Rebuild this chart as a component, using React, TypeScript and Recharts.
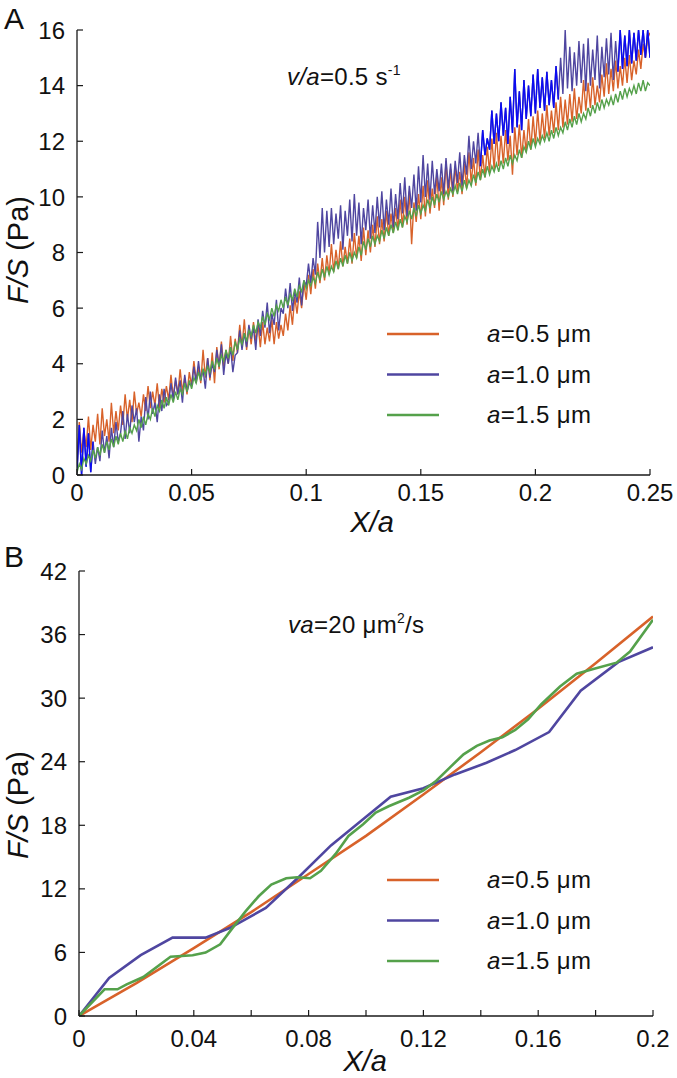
import React from 'react';
import { LineChart, Line, XAxis, YAxis, Legend } from 'recharts';

const FONT = '"Liberation Sans", Arial, Helvetica, sans-serif';
const AXIS = '#1a1a1a';
const C_ORANGE = '#D8622A';
const C_PURPLE = '#4F46A0';
const C_GREEN = '#55A14B';
const C_BLUE = '#0B0BF2';

const seriesNames = ['a=0.5 μm', 'a=1.0 μm', 'a=1.5 μm'];

// ---------- Panel A (v/a = 0.5 s^-1), sampled every 0.001 in X/a ----------
const stepA = 0.001;
const orangeA = [
  0.5, 1.9, 0.8, 1.6, 1.0, 2.1, 0.9, 1.8, 1.2, 2.2,
  1.1, 2.4, 1.4, 2.0, 1.2, 2.6, 1.5, 2.3, 1.6, 2.5,
  1.8, 2.9, 2.0, 2.7, 1.9, 3.0, 2.2, 2.6, 2.1, 2.9,
  2.3, 3.2, 2.4, 3.0, 2.5, 3.3, 2.4, 3.1, 2.6, 3.2,
  2.7, 3.6, 2.8, 3.4, 2.9, 3.8, 3.0, 3.5, 2.9, 3.7,
  3.2, 4.1, 3.4, 3.9, 3.3, 4.5, 3.5, 4.2, 3.4, 4.4,
  3.3, 4.6, 3.8, 4.8, 3.9, 4.5, 4.0, 5.0, 4.1, 4.9,
  4.4, 5.4, 4.6, 5.6, 4.5, 5.3, 4.7, 5.5, 4.8, 5.4,
  4.6, 5.5, 4.7, 5.3, 4.8, 5.6, 4.7, 5.5, 4.9, 5.4,
  5.0, 5.8, 5.2, 6.1, 5.4, 6.4, 5.8, 6.6, 6.0, 6.9,
  6.3, 7.2, 6.5, 7.4, 6.7, 7.6, 6.9, 7.8, 7.0, 7.9,
  7.2, 8.3, 7.3, 8.1, 7.4, 8.4, 7.5, 8.2, 7.6, 8.5,
  7.6, 8.7, 7.8, 8.6, 7.7, 8.9, 7.9, 8.8, 8.0, 9.0,
  8.2, 9.3, 8.3, 9.2, 8.4, 9.5, 8.6, 9.4, 8.7, 9.6,
  8.8, 9.9, 8.9, 10.0, 9.0, 10.2, 8.3, 9.8, 9.1, 10.1,
  9.2, 10.4, 9.3, 10.6, 9.4, 10.3, 9.6, 10.8, 9.5, 10.7,
  9.7, 11.3, 9.9, 11.0, 10.0, 11.1, 10.2, 10.9, 10.1, 11.2,
  10.3, 11.6, 10.5, 11.4, 10.4, 11.7, 10.6, 11.5, 10.7, 11.8,
  10.9, 12.1, 11.0, 12.3, 11.1, 12.2, 11.2, 12.4, 11.3, 12.2,
  10.8, 12.5, 11.5, 12.6, 11.4, 12.4, 11.6, 12.8, 11.7, 12.9,
  11.9, 13.1, 12.0, 13.0, 12.1, 13.3, 12.2, 13.1, 12.3, 13.4,
  12.4, 13.6, 12.5, 13.5, 12.6, 13.7, 12.7, 13.9, 12.8, 13.6,
  13.0, 14.2, 13.1, 14.1, 13.2, 14.3, 13.3, 14.0, 13.4, 14.4,
  13.6, 14.8, 13.7, 14.6, 13.8, 14.9, 13.9, 14.7, 14.0, 15.0,
  14.1, 15.1, 14.2, 14.9, 14.4, 15.3, 14.6, 15.5, 15.0, 15.7,
  15.9,
];
const purpleA = [
  0.1, 1.8, 0.0, 1.7, 0.3, 1.5, 0.1, 1.2, 0.4, 1.0,
  0.5, 1.6, 0.8, 1.4, 0.6, 1.7, 1.0, 1.9, 1.2, 1.5,
  2.3, 1.3, 2.2, 1.5, 2.5, 1.9, 2.4, 1.2, 2.1, 1.6,
  2.8, 2.0, 3.0, 2.2, 2.6, 1.9, 2.9, 2.3, 3.1, 2.5,
  2.6, 3.3, 2.7, 3.5, 2.9, 3.4, 2.6, 3.6, 3.0, 3.3,
  3.2, 3.9, 3.3, 4.1, 3.4, 3.8, 3.1, 4.2, 3.5, 4.0,
  3.7, 4.5, 3.9, 4.7, 3.6, 4.4, 4.0, 4.6, 3.7, 4.3,
  4.4, 5.2, 4.5, 5.1, 4.6, 5.4, 4.9, 5.3, 4.5, 5.6,
  5.0, 5.9, 5.3, 6.2, 5.1, 5.8, 5.4, 6.3, 5.2, 6.0,
  5.8, 6.7, 6.0, 6.9, 5.9, 6.6, 6.2, 7.1, 6.1, 7.0,
  6.8, 7.6, 6.9, 7.8, 7.2, 9.1, 7.8, 9.6, 8.0, 9.5,
  8.2, 9.6, 8.3, 9.4, 8.5, 9.7, 8.1, 9.5, 8.6, 9.9,
  8.4, 10.1, 8.6, 9.8, 8.3, 9.6, 8.8, 9.9, 8.5, 9.7,
  8.7, 10.0, 8.9, 10.2, 8.8, 9.9, 9.0, 10.3, 8.9, 10.1,
  9.2, 10.5, 9.4, 10.7, 9.3, 10.4, 9.6, 10.8, 9.5, 11.1,
  9.8, 11.5, 10.0, 11.2, 9.9, 11.3, 10.1, 11.0, 10.2, 11.2,
  10.1, 11.4, 10.3, 11.2, 10.2, 11.3, 10.5, 11.6, 10.4, 11.5,
  10.8, 12.2, 11.0, 12.0, 11.2, 12.3, 11.1, 12.4, 11.5, 12.1,
  11.7, 13.1, 11.9, 13.0, 12.0, 13.4, 12.2, 13.2, 11.9, 13.6,
  12.3, 14.6, 12.5, 13.8, 12.4, 14.2, 12.8, 14.0, 12.9, 14.4,
  13.0, 14.6, 13.2, 14.3, 13.1, 14.5, 13.3, 14.2, 13.2, 14.7,
  13.5, 15.0, 13.7, 16.0, 13.9, 15.4, 13.8, 15.2, 14.0, 15.6,
  14.1, 15.5, 13.8, 15.7, 14.0, 15.3, 14.2, 15.8, 13.9, 15.4,
  14.3, 15.7, 14.4, 15.9, 14.2, 15.6, 14.5, 16.0, 14.6, 15.8,
  14.7, 16.0, 14.8, 15.9, 14.9, 16.0, 15.1, 16.0, 15.0, 16.0,
  15.0,
];
const greenA = [
  0.1, 0.4, 0.2, 0.6, 0.4, 0.7, 0.5, 0.9, 0.6, 1.0,
  0.7, 1.1, 0.8, 1.2, 0.9, 1.3, 1.0, 1.4, 1.1, 1.5,
  1.2, 1.6, 1.3, 1.7, 1.5, 1.8, 1.6, 2.0, 1.7, 2.1,
  1.8, 2.2, 2.0, 2.4, 2.1, 2.5, 2.3, 2.7, 2.4, 2.8,
  2.5, 2.9, 2.6, 3.0, 2.7, 3.1, 2.9, 3.3, 3.0, 3.4,
  3.1, 3.5, 3.3, 3.7, 3.4, 3.8, 3.6, 3.9, 3.7, 4.1,
  3.8, 4.2, 3.9, 4.3, 4.1, 4.5, 4.2, 4.6, 4.3, 4.8,
  4.5, 4.9, 4.7, 5.1, 4.8, 5.2, 5.0, 5.4, 5.1, 5.5,
  5.3, 5.7, 5.4, 5.8, 5.6, 6.0, 5.7, 6.1, 5.9, 6.3,
  6.0, 6.4, 6.1, 6.5, 6.3, 6.7, 6.4, 6.8, 6.6, 7.0,
  6.7, 7.0, 6.8, 7.1, 6.9, 7.3, 7.0, 7.4, 7.1, 7.5,
  7.2, 7.5, 7.3, 7.7, 7.4, 7.8, 7.5, 7.9, 7.6, 8.0,
  7.7, 8.0, 7.8, 8.2, 7.9, 8.4, 8.1, 8.5, 8.2, 8.6,
  8.3, 8.6, 8.4, 8.8, 8.5, 8.9, 8.6, 9.0, 8.7, 9.1,
  8.8, 9.2, 8.9, 9.3, 9.1, 9.5, 9.2, 9.6, 9.3, 9.7,
  9.4, 9.7, 9.5, 9.9, 9.6, 10.0, 9.7, 10.1, 9.8, 10.2,
  9.9, 10.2, 10.0, 10.3, 10.1, 10.4, 10.1, 10.5, 10.2, 10.6,
  10.3, 10.6, 10.4, 10.8, 10.5, 10.9, 10.6, 11.0, 10.7, 11.1,
  10.8, 11.1, 10.9, 11.2, 10.9, 11.3, 11.0, 11.4, 11.1, 11.5,
  11.2, 11.5, 11.3, 11.7, 11.4, 11.8, 11.6, 12.0, 11.7, 12.1,
  11.8, 12.1, 11.9, 12.2, 12.0, 12.3, 12.0, 12.4, 12.1, 12.5,
  12.2, 12.5, 12.3, 12.7, 12.4, 12.8, 12.5, 12.9, 12.6, 13.0,
  12.7, 13.0, 12.8, 13.2, 12.9, 13.3, 13.0, 13.4, 13.1, 13.5,
  13.2, 13.5, 13.3, 13.6, 13.3, 13.7, 13.4, 13.8, 13.5, 13.9,
  13.6, 13.9, 13.7, 14.0, 13.7, 14.1, 13.8, 14.2, 13.8, 14.1,
  14.0,
];
// X/a ranges where the a=1.0 trace is drawn in bright blue in the original
const blueRangesA = [[0, 0.007], [0.176, 0.21], [0.236, 0.25]];
const xTicksA = [0, 0.05, 0.1, 0.15, 0.2, 0.25];
const xLabelsA = ['0', '0.05', '0.1', '0.15', '0.2', '0.25'];
const yTicksA = [0, 2, 4, 6, 8, 10, 12, 14, 16];

// ---------- Panel B (va = 20 μm²/s) ----------
const orangeBX = [0, 0.02, 0.04, 0.06, 0.08, 0.1, 0.12, 0.14, 0.16, 0.18, 0.2];
const orangeBY = [0, 3.1, 6.4, 9.8, 13.4, 17.0, 20.9, 24.9, 29.0, 33.3, 37.7];
const purpleBX = [0, 0.0105, 0.0215, 0.0326, 0.0441, 0.0525, 0.0651, 0.0765, 0.0878, 0.0978, 0.1086, 0.12, 0.131, 0.142, 0.152, 0.1638, 0.1748, 0.1879, 0.2];
const purpleBY = [0, 3.6, 5.75, 7.4, 7.4, 8.3, 10.2, 13.1, 16.1, 18.3, 20.7, 21.5, 22.8, 23.9, 25.1, 26.8, 30.7, 33.4, 34.8];
const greenBX = [0, 0.0089, 0.0134, 0.0166, 0.0224, 0.0319, 0.0396, 0.0441, 0.0492, 0.0536, 0.0581, 0.0626, 0.067, 0.0722, 0.076, 0.0805, 0.0843, 0.0894, 0.0939, 0.099, 0.1034, 0.1079, 0.115, 0.12, 0.1245, 0.129, 0.134, 0.1386, 0.143, 0.1475, 0.152, 0.1565, 0.161, 0.1676, 0.1734, 0.1792, 0.1873, 0.192, 0.2];
const greenBY = [0, 2.52, 2.52, 2.99, 3.68, 5.6, 5.73, 5.98, 6.76, 8.34, 9.9, 11.3, 12.4, 13.0, 13.1, 13.0, 13.7, 15.3, 17.0, 18.1, 19.2, 19.8, 20.6, 21.3, 22.2, 23.4, 24.7, 25.5, 26.0, 26.3, 27.0, 28.0, 29.4, 31.1, 32.3, 32.75, 33.35, 34.4, 37.4];
const xTicksB = [0, 0.02, 0.04, 0.06, 0.08, 0.1, 0.12, 0.14, 0.16, 0.18, 0.2];
const xLabelsB = ['0', '', '0.04', '', '0.08', '', '0.12', '', '0.16', '', '0.2'];
const yTicksB = [0, 6, 12, 18, 24, 30, 36, 42];

// ---------- helpers ----------
const sampled = (ys: number[], step: number) => ys.map((y, i) => ({ x: Math.round(i * step * 10000) / 10000, y }));
const zip = (xs: number[], ys: number[]) => xs.map((x, i) => ({ x, y: ys[i] }));
const inRanges = (x: number, ranges: number[][]) => ranges.some(([a, b]) => x >= a - 1e-9 && x <= b + 1e-9);

const dataOrangeA = sampled(orangeA, stepA);
const dataPurpleA = sampled(purpleA, stepA);
const dataGreenA = sampled(greenA, stepA);
const dataBlueA = dataPurpleA.map((p) => ({ x: p.x, y: inRanges(p.x, blueRangesA) ? p.y : null }));

const dataOrangeB = zip(orangeBX, orangeBY);
const dataPurpleB = zip(purpleBX, purpleBY);
const dataGreenB = zip(greenBX, greenBY);

const TICK = 6;

const BottomTick = (props: any) => {
  const { x, y, index, labels, labelOffset } = props;
  const lab = labels[index];
  return (
    <g>
      <line x1={x} x2={x} y1={y} y2={y - TICK} stroke={AXIS} strokeWidth={1.2} />
      {lab ? (
        <text x={x} y={y + labelOffset} textAnchor="middle" fontSize={24} fontFamily={FONT} fill="#111">
          {lab}
        </text>
      ) : null}
    </g>
  );
};
const TopTick = (props: any) => {
  const { x, y } = props;
  return <line x1={x} x2={x} y1={y} y2={y + TICK} stroke={AXIS} strokeWidth={1.2} />;
};
const LeftTick = (props: any) => {
  const { x, y, payload } = props;
  return (
    <g>
      <line x1={x} x2={x + TICK} y1={y} y2={y} stroke={AXIS} strokeWidth={1.2} />
      <text x={x - 12} y={y} dy="0.36em" textAnchor="end" fontSize={24} fontFamily={FONT} fill="#111">
        {payload.value}
      </text>
    </g>
  );
};
const RightTick = (props: any) => {
  const { x, y } = props;
  return <line x1={x} x2={x - TICK} y1={y} y2={y} stroke={AXIS} strokeWidth={1.2} />;
};

const renderLegend = (props: any) => {
  const items = (props.payload || []).filter((p: any) => p.type !== 'none');
  return (
    <svg width={290} height={130} style={{ overflow: 'visible', display: 'block' }}>
      {items.map((p: any, i: number) => {
        const cy = 24 + i * 40.5;
        const name = String(p.value);
        return (
          <g key={i}>
            <line x1={7} x2={59} y1={cy} y2={cy} stroke={p.color} strokeWidth={2.6} />
            <text x={107} y={cy + 8} fontSize={24} letterSpacing={0.4} fontFamily={FONT} fill="#111">
              <tspan fontStyle="italic">{name.slice(0, 1)}</tspan>
              {name.slice(1)}
            </text>
          </g>
        );
      })}
    </svg>
  );
};

const axisLineStyle = { stroke: AXIS, strokeWidth: 1.3 };

function PanelA() {
  return (
    <LineChart width={677} height={540} margin={{ top: 30, right: 27, bottom: 0, left: 0 }}>
      <XAxis
        xAxisId="b"
        dataKey="x"
        type="number"
        domain={[0, 0.25]}
        ticks={xTicksA}
        interval={0}
        allowDataOverflow
        height={65}
        tickSize={0}
        tickMargin={0}
        tickLine={false}
        axisLine={axisLineStyle}
        tick={(p: any) => <BottomTick {...p} labels={xLabelsA} labelOffset={26} />}
      />
      <XAxis
        xAxisId="t"
        orientation="top"
        dataKey="x"
        type="number"
        domain={[0, 0.25]}
        ticks={xTicksA}
        interval={0}
        allowDataOverflow
        height={0}
        tickSize={0}
        tickMargin={0}
        tickLine={false}
        axisLine={axisLineStyle}
        tick={(p: any) => <TopTick {...p} />}
      />
      <YAxis
        yAxisId="l"
        type="number"
        domain={[0, 16]}
        ticks={yTicksA}
        interval={0}
        allowDataOverflow
        width={77}
        tickSize={0}
        tickMargin={0}
        tickLine={false}
        axisLine={axisLineStyle}
        tick={(p: any) => <LeftTick {...p} />}
      />
      <YAxis
        yAxisId="r"
        orientation="right"
        type="number"
        domain={[0, 16]}
        ticks={yTicksA}
        interval={0}
        allowDataOverflow
        width={0}
        tickSize={0}
        tickMargin={0}
        tickLine={false}
        axisLine={axisLineStyle}
        tick={(p: any) => <RightTick {...p} />}
      />
      <Legend
        layout="vertical"
        align="center"
        verticalAlign="middle"
        content={renderLegend}
        wrapperStyle={{ left: 380, top: 310, width: 290, height: 130 }}
      />
      <Line xAxisId="b" yAxisId="l" data={dataOrangeA} dataKey="y" name={seriesNames[0]} stroke={C_ORANGE} strokeWidth={1.4} dot={false} isAnimationActive={false} />
      <Line xAxisId="b" yAxisId="l" data={dataPurpleA} dataKey="y" name={seriesNames[1]} stroke={C_PURPLE} strokeWidth={1.4} dot={false} isAnimationActive={false} />
      <Line xAxisId="b" yAxisId="l" data={dataBlueA} dataKey="y" name="blue" legendType="none" stroke={C_BLUE} strokeWidth={1.4} dot={false} isAnimationActive={false} />
      <Line xAxisId="b" yAxisId="l" data={dataGreenA} dataKey="y" name={seriesNames[2]} stroke={C_GREEN} strokeWidth={1.4} dot={false} isAnimationActive={false} />
    </LineChart>
  );
}

function PanelB() {
  return (
    <LineChart width={677} height={538} margin={{ top: 31, right: 24, bottom: 0, left: 0 }}>
      <XAxis
        xAxisId="b"
        dataKey="x"
        type="number"
        domain={[0, 0.2]}
        ticks={xTicksB}
        interval={0}
        allowDataOverflow
        height={62}
        tickSize={0}
        tickMargin={0}
        tickLine={false}
        axisLine={axisLineStyle}
        tick={(p: any) => <BottomTick {...p} labels={xLabelsB} labelOffset={31} />}
      />
      <XAxis
        xAxisId="t"
        orientation="top"
        dataKey="x"
        type="number"
        domain={[0, 0.2]}
        ticks={xTicksB}
        interval={0}
        allowDataOverflow
        height={0}
        tickSize={0}
        tickMargin={0}
        tickLine={false}
        axisLine={axisLineStyle}
        tick={(p: any) => <TopTick {...p} />}
      />
      <YAxis
        yAxisId="l"
        type="number"
        domain={[0, 42]}
        ticks={yTicksB}
        interval={0}
        allowDataOverflow
        width={79}
        tickSize={0}
        tickMargin={0}
        tickLine={false}
        axisLine={axisLineStyle}
        tick={(p: any) => <LeftTick {...p} />}
      />
      <YAxis
        yAxisId="r"
        orientation="right"
        type="number"
        domain={[0, 42]}
        ticks={yTicksB}
        interval={0}
        allowDataOverflow
        width={0}
        tickSize={0}
        tickMargin={0}
        tickLine={false}
        axisLine={axisLineStyle}
        tick={(p: any) => <RightTick {...p} />}
      />
      <Legend
        layout="vertical"
        align="center"
        verticalAlign="middle"
        content={renderLegend}
        wrapperStyle={{ left: 380, top: 316, width: 290, height: 130 }}
      />
      <Line xAxisId="b" yAxisId="l" data={dataOrangeB} dataKey="y" name={seriesNames[0]} stroke={C_ORANGE} strokeWidth={2.6} dot={false} isAnimationActive={false} />
      <Line xAxisId="b" yAxisId="l" data={dataPurpleB} dataKey="y" name={seriesNames[1]} stroke={C_PURPLE} strokeWidth={2.6} dot={false} isAnimationActive={false} />
      <Line xAxisId="b" yAxisId="l" data={dataGreenB} dataKey="y" name={seriesNames[2]} stroke={C_GREEN} strokeWidth={2.6} dot={false} isAnimationActive={false} />
    </LineChart>
  );
}

function Overlay() {
  const t = { fontFamily: FONT, fill: '#111' } as const;
  return (
    <svg width={677} height={1078} style={{ position: 'absolute', left: 0, top: 0, pointerEvents: 'none' }}>
      <text x={4} y={29} fontSize={30} {...t}>A</text>
      <text x={4} y={567} fontSize={30} {...t}>B</text>
      <text x={287} y={85} fontSize={24} letterSpacing={0.3} {...t}>
        <tspan fontStyle="italic">v/a</tspan>=0.5 s<tspan fontSize={14} dy={-10}>-1</tspan>
      </text>
      <text x={288} y={633} fontSize={24} letterSpacing={0.3} {...t}>
        <tspan fontStyle="italic">va</tspan>=20 μm<tspan fontSize={14} dy={-10}>2</tspan><tspan dy={10}>/s</tspan>
      </text>
      <text x={372} y={532} fontSize={29} textAnchor="middle" fontStyle="italic" {...t}>X/a</text>
      <text x={365} y={1071} fontSize={29} textAnchor="middle" fontStyle="italic" {...t}>X/a</text>
      <text transform="translate(28,250) rotate(-90)" fontSize={29} textAnchor="middle" {...t}>
        <tspan fontStyle="italic">F/S</tspan> (Pa)
      </text>
      <text transform="translate(28,805) rotate(-90)" fontSize={29} textAnchor="middle" {...t}>
        <tspan fontStyle="italic">F/S</tspan> (Pa)
      </text>
    </svg>
  );
}

export default function App() {
  return (
    <div style={{ position: 'absolute', left: 0, top: 0, width: 677, height: 1078, background: '#fff' }}>
      <div style={{ position: 'absolute', left: 0, top: 0 }}>
        <PanelA />
      </div>
      <div style={{ position: 'absolute', left: 0, top: 540 }}>
        <PanelB />
      </div>
      <Overlay />
    </div>
  );
}
